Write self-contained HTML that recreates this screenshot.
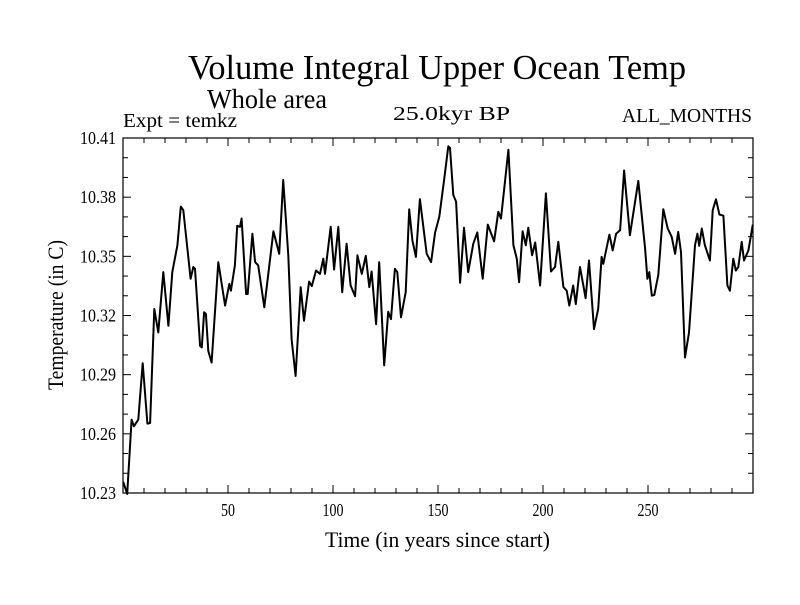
<!DOCTYPE html>
<html><head><meta charset="utf-8"><style>
html,body{margin:0;padding:0;background:#fff;}
svg text{font-family:"Liberation Serif",serif;fill:#000;}
</style></head><body>
<svg id="chart" width="800" height="600" viewBox="0 0 800 600" xmlns="http://www.w3.org/2000/svg">
<text x="188" y="79" font-size="35" textLength="498" lengthAdjust="spacingAndGlyphs">Volume Integral Upper Ocean Temp</text>
<text x="207" y="108" font-size="27" textLength="120" lengthAdjust="spacingAndGlyphs">Whole area</text>
<text x="123" y="127" font-size="20" textLength="114" lengthAdjust="spacingAndGlyphs">Expt = temkz</text>
<text x="393" y="120" font-size="20" textLength="117" lengthAdjust="spacingAndGlyphs">25.0kyr BP</text>
<text x="622" y="122" font-size="20" textLength="130" lengthAdjust="spacingAndGlyphs">ALL_MONTHS</text>
<text x="325" y="547" font-size="22" textLength="225" lengthAdjust="spacingAndGlyphs">Time (in years since start)</text>
<text transform="translate(63,390) rotate(-90)" font-size="22" textLength="150" lengthAdjust="spacingAndGlyphs">Temperature (in C)</text>
<g id="axes"></g>
<path id="series" fill="none" stroke="#000" stroke-width="2" stroke-linejoin="round"/>
</svg>
<script>
const years=[0.1,2.0,4.1,5.2,7.3,9.4,11.6,12.9,14.9,16.8,19.2,21.6,23.5,25.9,27.5,28.7,32.2,33.5,34.3,36.7,37.5,38.6,39.5,40.6,42.2,45.4,48.6,50.6,51.4,53.3,54.4,55.7,56.5,58.6,59.4,61.6,62.9,64.4,67.3,71.6,74.4,76.3,78.7,80.3,82.2,84.6,86.2,88.6,89.9,91.9,93.8,95.4,96.2,98.9,100.5,102.5,104.4,106.5,108.4,110.5,111.6,113.7,115.6,117.3,118.4,120.5,122.0,124.4,126.3,127.6,129.5,130.6,132.4,134.6,136.3,137.8,139.5,141.4,144.6,146.7,148.6,150.6,152.9,154.9,155.7,157.3,158.6,160.5,162.4,164.4,166.8,168.7,171.3,173.7,176.7,178.7,180.0,183.5,185.9,187.5,188.6,190.3,191.8,193.0,194.8,196.3,198.6,201.4,203.8,205.7,207.3,209.7,211.3,212.5,214.4,215.6,217.6,220.3,221.9,224.3,226.3,227.9,228.7,231.6,233.2,234.8,236.7,238.6,241.4,245.4,248.6,249.7,250.6,251.8,253.0,254.9,257.3,259.4,261.3,262.9,264.4,265.7,267.6,269.5,272.4,273.5,274.4,275.6,277.1,279.5,280.8,282.4,284.0,285.9,287.8,289.0,290.6,291.8,293.0,294.6,295.7,297.8,299.9];
const temps=[10.2357,10.2295,10.2672,10.2638,10.2672,10.2958,10.2652,10.2655,10.3233,10.3114,10.3420,10.3148,10.3420,10.3556,10.3752,10.3734,10.3386,10.3446,10.3437,10.3046,10.3038,10.3216,10.3208,10.3020,10.2961,10.3471,10.3250,10.3360,10.3326,10.3454,10.3655,10.3650,10.3692,10.3309,10.3309,10.3615,10.3471,10.3454,10.3242,10.3627,10.3513,10.3887,10.3505,10.3080,10.2893,10.3344,10.3173,10.3372,10.3349,10.3428,10.3411,10.3488,10.3411,10.3650,10.3433,10.3650,10.3318,10.3564,10.3352,10.3298,10.3505,10.3411,10.3502,10.3344,10.3423,10.3156,10.3471,10.2947,10.3219,10.3182,10.3437,10.3420,10.3191,10.3318,10.3738,10.3581,10.3497,10.3790,10.3513,10.3471,10.3621,10.3701,10.3887,10.4058,10.4049,10.3811,10.3777,10.3366,10.3645,10.3420,10.3564,10.3621,10.3386,10.3661,10.3576,10.3726,10.3692,10.4040,10.3556,10.3488,10.3369,10.3627,10.3556,10.3645,10.3505,10.3570,10.3352,10.3819,10.3423,10.3446,10.3573,10.3344,10.3326,10.3250,10.3352,10.3258,10.3446,10.3288,10.3479,10.3131,10.3233,10.3497,10.3462,10.3610,10.3530,10.3615,10.3632,10.3935,10.3607,10.3882,10.3539,10.3386,10.3420,10.3301,10.3304,10.3406,10.3739,10.3641,10.3599,10.3513,10.3624,10.3522,10.2987,10.3114,10.3556,10.3615,10.3553,10.3641,10.3556,10.3479,10.3734,10.3789,10.3712,10.3706,10.3352,10.3326,10.3488,10.3428,10.3446,10.3573,10.3479,10.3530,10.3661];
const xTicks=[50,100,150,200,250];
const yTicks=["10.23","10.26","10.29","10.32","10.35","10.38","10.41"];
const X0=123,X1=753,Y0=138,Y1=493;
function sx(v){return X0+(v-0)/(300-0)*(X1-X0);}
function sy(v){return Y1-(v-10.23)/(10.41-10.23)*(Y1-Y0);}
const NS="http://www.w3.org/2000/svg";
const ax=document.getElementById('axes');
function mk(tag,attrs){const e=document.createElementNS(NS,tag);for(const k in attrs)e.setAttribute(k,attrs[k]);ax.appendChild(e);return e;}
const frame=mk('rect',{x:X0,y:Y0,width:X1-X0,height:Y1-Y0,fill:'none',stroke:'#000','stroke-width':1.2});


for(let t=10;t<300;t+=10){
  const L=(t%50===0)?8:5;
  const a=mk('line',{x1:sx(t),x2:sx(t),y1:Y1,y2:Y1-L,stroke:'#000'});
  
  
  const b=mk('line',{x1:sx(t),x2:sx(t),y1:Y0,y2:Y0+L,stroke:'#000'});
  
  
}
xTicks.forEach(t=>{
  const s=String(t);
  const e=mk('text',{x:sx(t),y:Y1+23,'font-size':18,'text-anchor':'middle',textLength:s.length*7,lengthAdjust:'spacingAndGlyphs'});
  e.textContent=s;
  
  
});
for(let i=1;i<18;i++){
  const v=10.23+i*0.01;
  const L=(i%3===0)?8:5;
  const a=mk('line',{x1:X0,x2:X0+L,y1:sy(v),y2:sy(v),stroke:'#000'});
  
  
  const b=mk('line',{x1:X1,x2:X1-L,y1:sy(v),y2:sy(v),stroke:'#000'});
  
  
}
yTicks.forEach(t=>{
  const e=mk('text',{x:X0-7,y:sy(parseFloat(t))+6,'font-size':18,'text-anchor':'end',textLength:36,lengthAdjust:'spacingAndGlyphs'});
  e.textContent=t;
  
  
});
let d='';
years.forEach((yr,i)=>{d+=(i?'L':'M')+sx(yr).toFixed(1)+','+sy(temps[i]).toFixed(1);});
document.getElementById('series').setAttribute('d',d);
</script>
</body></html>
